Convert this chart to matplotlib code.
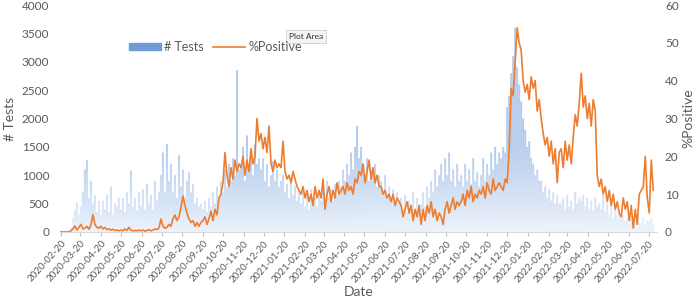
import matplotlib.pyplot as plt
import matplotlib.dates as mdates
import matplotlib.patches as mpatches
import matplotlib.lines as mlines
import numpy as np
import pandas as pd

plt.rcParams['font.family'] = ['Lato', 'DejaVu Sans']

# daily tests, sampled every 3 days from 2020-02-20 (one line ~ 30 days)
tests = [
    0, 0, 0, 0, 0, 80, 250, 380, 520, 300,
    450, 700, 1100, 1270, 600, 900, 500, 650, 350, 550,
    300, 550, 400, 650, 350, 800, 300, 500, 450, 600,
    400, 600, 350, 700, 500, 1080, 450, 600, 380, 700,
    450, 750, 400, 850, 500, 650, 400, 900, 550, 700,
    1000, 1400, 700, 1550, 900, 1200, 700, 1000, 600, 1350,
    800, 1100, 600, 900, 1050, 700, 850, 500, 600, 450,
    500, 400, 550, 350, 600, 450, 700, 500, 800, 600,
    900, 700, 1100, 800, 1200, 900, 1300, 1000, 2850, 1100,
    1200, 1500, 900, 1700, 1100, 1400, 1000, 1550, 1200, 1300,
    1100, 1300, 900, 1200, 800, 1000, 1250, 900, 1100, 800,
    900, 1000, 700, 850, 600, 900, 650, 800, 550, 700,
    500, 700, 450, 650, 400, 750, 500, 600, 450, 700,
    550, 800, 500, 900, 600, 750, 550, 850, 650, 900,
    800, 1100, 900, 1200, 1000, 1400, 1100, 1500, 1870, 1300,
    1500, 1200, 1000, 1300, 900, 1100, 1000, 1200, 800, 1000,
    900, 700, 1000, 650, 800, 600, 750, 500, 700, 550,
    600, 400, 650, 350, 550, 450, 700, 400, 600, 450,
    500, 700, 450, 800, 600, 900, 700, 1100, 800, 1000,
    1200, 900, 1300, 1000, 1400, 900, 1100, 800, 1200, 900,
    1000, 800, 1200, 900, 1100, 850, 1300, 900, 1050, 800,
    1000, 1300, 900, 1200, 1000, 1400, 1100, 1500, 1200, 1400,
    1300, 1500, 1400, 2200, 2400, 2800, 3100, 3600, 2900, 2600,
    2300, 2000, 1800, 1500, 1600, 1300, 1200, 1000, 1100, 900,
    900, 700, 800, 600, 750, 550, 700, 500, 650, 500,
    500, 600, 400, 650, 450, 550, 400, 700, 500, 600,
    550, 650, 450, 600, 400, 550, 380, 600, 450, 500,
    400, 650, 350, 500, 300, 450, 250, 400, 300, 350,
    250, 300, 200, 250, 150, 220, 120, 200, 100, 180,
    150, 250, 120, 200, 180, 230, 150,
]

# percent positive, same dates
positive = [
    0, 0, 0, 0, 0, 0.3, 0.8, 1.6, 0.5, 1.2,
    2.0, 0.8, 1.0, 1.5, 0.7, 1.8, 4.6, 2.0, 1.2, 1.0,
    1.5, 0.8, 1.2, 0.6, 0.8, 0.5, 0.7, 0.4, 0.5, 0.3,
    0.5, 0.3, 0.8, 0.4, 1.2, 0.5, 0.3, 0.4, 0.3, 0.5,
    0.3, 0.5, 0.2, 0.4, 0.6, 0.3, 0.5, 0.8, 0.6, 1.0,
    3.4, 1.5, 1.0, 1.2, 2.0, 1.5, 3.5, 4.5, 3.0, 4.0,
    6.5, 9.5, 7.0, 5.0, 3.5, 2.5, 3.0, 1.5, 2.5, 1.5,
    2.5, 3.0, 4.0, 2.0, 3.5, 5.5, 3.0, 6.0, 4.5, 9.0,
    10, 13, 21, 15, 12, 17, 14, 19, 16, 18,
    17, 20, 15, 19, 16, 22, 18, 20, 30, 24,
    26, 22, 25, 21, 28, 18, 16, 19, 17, 18,
    17, 24, 16, 14, 15, 13, 16, 14, 12, 11,
    10, 12, 9, 11, 8, 10, 7, 12, 9, 11,
    9, 14, 6, 10, 12, 8, 11, 9, 13, 10,
    11, 12, 10, 13, 11, 12, 10, 14, 13, 16,
    15, 18, 13, 16, 19, 14, 17, 13, 15, 12,
    12, 10, 11, 9, 10, 8, 10, 7, 9, 8,
    7, 4, 6, 8, 5, 7, 3, 6, 4, 7,
    2, 6, 3, 7, 5, 8, 4, 6, 3, 5,
    4, 2, 6, 8, 5, 7, 9, 6, 8, 7,
    8, 10, 7, 11, 9, 12, 8, 10, 9, 11,
    10, 12, 9, 13, 11, 10, 14, 11, 12, 13,
    12, 11, 14, 13, 22, 38, 36, 45, 54, 50,
    48, 40, 37, 39, 35, 41, 38, 40, 32, 35,
    30, 26, 23, 25, 20, 24, 18, 22, 13, 21,
    22, 17, 24, 19, 23, 18, 25, 31, 28, 34,
    42, 33, 36, 30, 34, 28, 35, 32, 15, 12,
    14, 10, 12, 8, 11, 7, 10, 6, 8, 5,
    4, 9, 6, 8, 3, 7, 1, 6, 2, 10,
    11, 12, 20, 9, 5, 19, 11,
]

dates = pd.date_range('2020-02-20', periods=len(tests), freq='3D')

gray = '#595959'
blue = '#b2cbee'
orange = '#ED7D31'

fig = plt.figure(figsize=(7, 2.97), dpi=100)
ax = fig.add_axes([0.086, 0.219, 0.852, 0.764])
ax2 = ax.twinx()

ax.bar(dates, tests, width=3.0, color=blue, edgecolor='none', linewidth=0,
       snap=False, zorder=1)

# fade the bars towards the bottom like the excel gradient fill
grad = np.zeros((256, 1, 4))
grad[:, 0, :3] = 1.0
grad[:, 0, 3] = np.linspace(0.8, 0.0, 256) ** 1.2
ax.imshow(grad, extent=[0, 1, 0, 0.4], transform=ax.transAxes,
          aspect='auto', origin='lower', zorder=2)

ax2.plot(dates, positive, color=orange, lw=1.2)

ax.set_xlim(pd.Timestamp('2020-02-19'), pd.Timestamp('2022-08-01'))
ax.set_ylim(0, 4000)
ax.set_yticks(range(0, 4001, 500))
ax2.set_ylim(0, 60)
ax2.set_yticks(range(0, 61, 10))

ax.xaxis.set_major_locator(mdates.MonthLocator(bymonthday=20))
ax.xaxis.set_major_formatter(mdates.DateFormatter('%Y-%m-%d'))
for lbl in ax.get_xticklabels():
    lbl.set_rotation(48)
    lbl.set_ha('right')
    lbl.set_rotation_mode('anchor')

for a in (ax, ax2):
    for s in a.spines.values():
        s.set_visible(False)
ax.spines['bottom'].set_visible(True)
ax.spines['bottom'].set_color('#d9d9d9')

ax.tick_params(axis='x', colors='#bfbfbf', labelcolor=gray, labelsize=7, length=3, pad=2)
ax.tick_params(axis='y', length=0, labelcolor=gray, labelsize=8.5, pad=8)
ax2.tick_params(axis='y', length=0, labelcolor=gray, labelsize=8.5, pad=6)

ax.set_xlabel('Date', color=gray, fontsize=10, labelpad=1)
ax.set_ylabel('# Tests', color=gray, fontsize=10, labelpad=4)
ax2.set_ylabel('%Positive', color=gray, fontsize=10, labelpad=3)

handles = [mpatches.Patch(color='#6f9bd6', label='# Tests'),
           mlines.Line2D([], [], color=orange, lw=1.2, label='%Positive')]
fig.legend(handles=handles, loc='upper left', bbox_to_anchor=(0.168, 0.9),
           ncol=2, frameon=False, fontsize=9, handlelength=2.6,
           handleheight=0.55, columnspacing=0.7, handletextpad=0.25,
           labelcolor=gray)

fig.text(0.413, 0.868, 'Plot Area', fontsize=6, color='#333333',
         bbox=dict(boxstyle='square,pad=0.35', fc='#f4f4f4', ec='#cfcfcf', lw=0.6))

fig.savefig('out.png', dpi=100)
